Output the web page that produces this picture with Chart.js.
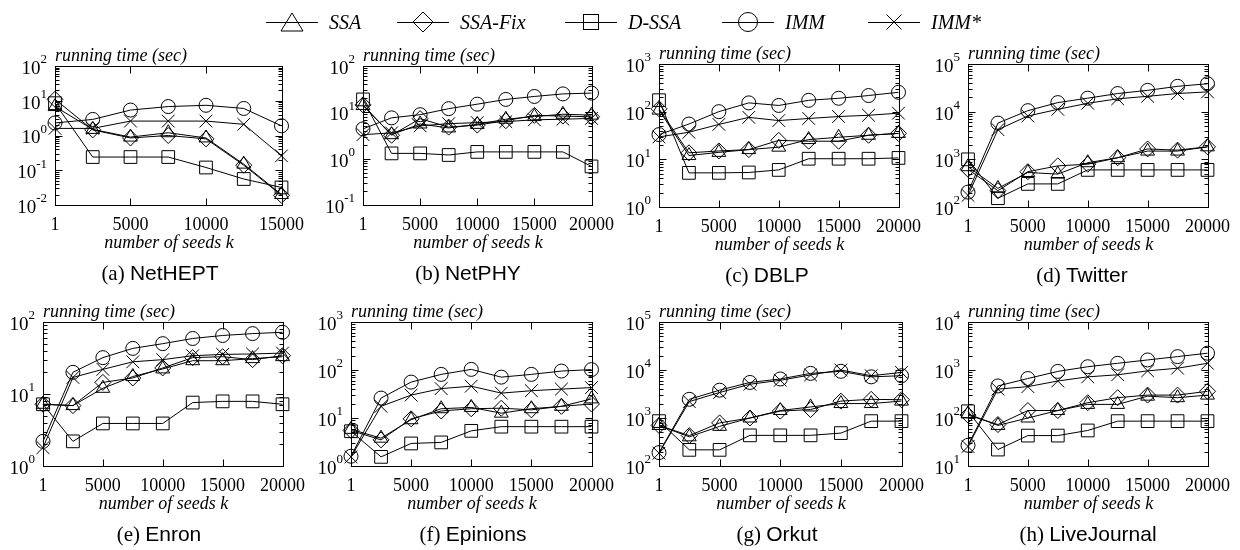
<!DOCTYPE html>
<html>
<head>
<meta charset="utf-8">
<script src="https://cdn.jsdelivr.net/npm/chart.js@4.4.0/dist/chart.umd.min.js"></script>
<style>
  body { margin: 0; background: #fff; }
  #fig { position: relative; width: 1240px; height: 550px; overflow: hidden; font-family: "Liberation Serif", serif; color: #000; }
  #fig canvas { position: absolute; }
  .lab { position: absolute; white-space: nowrap; line-height: 20px; }
  .it { font-style: italic; font-size: 18px; }
  .mid { transform: translateX(-50%); }
  .cap { font-size: 21px; }
  .cap span { font-family: "Liberation Sans", sans-serif; }
  .leg { position: absolute; top: 11px; height: 22px; display: flex; align-items: center; font-style: italic; font-size: 20px; white-space: nowrap; }
  .leg svg { margin-right: 11px; }
</style>
</head>
<body>
<div id="fig"></div>
<script>
// x values (number of seeds k)
const seedsHEPT = [1, 2500, 5000, 7500, 10000, 12500, 15000];
const seeds = [1, 2500, 5000, 7500, 10000, 12500, 15000, 17500, 20000];
const xTicksHEPT = [1, 5000, 10000, 15000];
const xTicks = [1, 5000, 10000, 15000, 20000];

const seriesNames = ['SSA', 'SSA-Fix', 'D-SSA', 'IMM', 'IMM*'];

// y tick exponents (10^e)
const yExpNetHEPT = [-2, -1, 0, 1, 2];
const yExpNetPHY = [-1, 0, 1, 2];
const yExpDBLP = [0, 1, 2, 3];
const yExpTwitter = [2, 3, 4, 5];
const yExpEnron = [0, 1, 2];
const yExpEpinions = [0, 1, 2, 3];
const yExpOrkut = [2, 3, 4, 5];
const yExpLiveJournal = [1, 2, 3, 4];

// running time (sec)
const netheptSSA = [6.8, 1.5, 0.9, 1.2, 0.85, 0.15, 0.02];
const netheptSSAFix = [11, 1.45, 0.85, 1.0, 0.8, 0.14, 0.019];
const netheptDSSA = [8.5, 0.24, 0.24, 0.24, 0.12, 0.056, 0.032];
const netheptIMM = [2.3, 2.9, 5.4, 6.8, 7.4, 6.0, 1.9];
const netheptIMMstar = [1.6, 1.6, 2.6, 2.6, 2.6, 2.1, 0.26];

const netphySSA = [14, 3.3, 5.6, 4.6, 5.5, 7.1, 8.1, 9.1, 8.7];
const netphySSAFix = [14.5, 3.2, 7.3, 4.8, 5.3, 6.6, 8.6, 8.3, 8.0];
const netphyDSSA = [19, 1.3, 1.3, 1.2, 1.4, 1.4, 1.4, 1.4, 0.68];
const netphyIMM = [4.4, 7.6, 8.9, 12, 15, 19, 22, 25, 26];
const netphyIMMstar = [3.3, 3.6, 5.1, 5.7, 6.0, 6.3, 6.9, 7.1, 7.4];

const dblpSSA = [108, 12, 14, 16, 18, 26, 29, 32, 35];
const dblpSSAFix = [115, 13.7, 15, 16, 25, 24, 24, 32, 35];
const dblpDSSA = [174, 5.2, 5.2, 5.3, 6.0, 10.3, 10.3, 10.3, 10.7];
const dblpIMM = [33, 55, 100, 153, 135, 173, 191, 218, 255];
const dblpIMMstar = [29.5, 37, 54, 76, 65, 72, 79, 84, 93];

const twitterSSA = [700, 246, 530, 490, 850, 1080, 1490, 1490, 1830];
const twitterSSAFix = [620, 220, 550, 730, 790, 1080, 1650, 1560, 1830];
const twitterDSSA = [1000, 153, 305, 305, 600, 600, 600, 600, 600];
const twitterIMM = [205, 5750, 10500, 15500, 19200, 24000, 28000, 34000, 38500];
const twitterIMMstar = [175, 4200, 8100, 11200, 15000, 18600, 21000, 24000, 26000];

const enronSSA = [7.2, 6.9, 12, 17.5, 22.3, 29, 29, 31, 33];
const enronSSAFix = [7.2, 6.9, 14.5, 16.7, 23, 32, 33, 30, 34];
const enronDSSA = [7.2, 2.2, 3.9, 3.9, 3.9, 7.6, 7.9, 7.9, 7.2];
const enronIMM = [2.2, 20, 32, 43, 50, 59, 65, 69, 72];
const enronIMMstar = [1.8, 17, 22, 28, 30, 34, 35.5, 36, 37];

const epinionsSSA = [5.8, 3.8, 9.2, 15.6, 16.6, 12.6, 15.6, 17.5, 25];
const epinionsSSAFix = [5.5, 3.5, 9.6, 14, 15.6, 16, 14.8, 17.5, 19.6];
const epinionsDSSA = [5.3, 1.55, 2.95, 3.1, 5.4, 6.6, 6.6, 6.6, 6.6];
const epinionsIMM = [1.6, 26, 56, 81, 103, 71, 81, 95, 102];
const epinionsIMMstar = [1.55, 17.5, 30, 41, 46, 33, 37, 40, 43];

const orkutSSA = [700, 405, 670, 1000, 1430, 1700, 2000, 2000, 2250];
const orkutSSAFix = [700, 430, 790, 1000, 1390, 1500, 2250, 2450, 2400];
const orkutDSSA = [860, 217, 217, 435, 435, 435, 485, 860, 860];
const orkutIMM = [190, 2450, 3800, 5500, 6500, 8500, 9400, 7200, 7600];
const orkutIMMstar = [185, 2200, 3400, 5050, 6100, 7900, 10000, 7600, 8900];

const livejournalSSA = [122, 70, 100, 143, 192, 192, 285, 265, 300];
const livejournalSSAFix = [115, 73, 143, 143, 208, 265, 300, 300, 360];
const livejournalDSSA = [138, 22, 43, 43, 55, 86, 86, 86, 86];
const livejournalIMM = [27, 465, 665, 935, 1170, 1380, 1620, 1900, 2240];
const livejournalIMMstar = [25.5, 400, 450, 590, 720, 795, 960, 1090, 1380];

const panels = [
  { tag: '(a)', name: 'NetHEPT', xs: seedsHEPT, xt: xTicksHEPT, exps: yExpNetHEPT, series: [netheptSSA, netheptSSAFix, netheptDSSA, netheptIMM, netheptIMMstar] },
  { tag: '(b)', name: 'NetPHY', xs: seeds, xt: xTicks, exps: yExpNetPHY, series: [netphySSA, netphySSAFix, netphyDSSA, netphyIMM, netphyIMMstar] },
  { tag: '(c)', name: 'DBLP', xs: seeds, xt: xTicks, exps: yExpDBLP, series: [dblpSSA, dblpSSAFix, dblpDSSA, dblpIMM, dblpIMMstar] },
  { tag: '(d)', name: 'Twitter', xs: seeds, xt: xTicks, exps: yExpTwitter, series: [twitterSSA, twitterSSAFix, twitterDSSA, twitterIMM, twitterIMMstar] },
  { tag: '(e)', name: 'Enron', xs: seeds, xt: xTicks, exps: yExpEnron, series: [enronSSA, enronSSAFix, enronDSSA, enronIMM, enronIMMstar] },
  { tag: '(f)', name: 'Epinions', xs: seeds, xt: xTicks, exps: yExpEpinions, series: [epinionsSSA, epinionsSSAFix, epinionsDSSA, epinionsIMM, epinionsIMMstar] },
  { tag: '(g)', name: 'Orkut', xs: seeds, xt: xTicks, exps: yExpOrkut, series: [orkutSSA, orkutSSAFix, orkutDSSA, orkutIMM, orkutIMMstar] },
  { tag: '(h)', name: 'LiveJournal', xs: seeds, xt: xTicks, exps: yExpLiveJournal, series: [livejournalSSA, livejournalSSAFix, livejournalDSSA, livejournalIMM, livejournalIMMstar] }
];

// plot boxes on the page: left, right, top, bottom; caption centre
const boxes = [
  [55, 283, 66, 205, 160], [363, 593, 66, 205, 468], [659, 900, 64, 207, 767], [968, 1209, 64, 207, 1082],
  [43, 284, 322, 466, 159], [351, 593, 322, 466, 473], [659, 903, 322, 466, 777], [968, 1209, 322, 466, 1088]
];

const marks = [
  { style: 'triangle', r: 8 },
  { style: 'rectRot', r: 8 },
  { style: 'rect', r: 9 },
  { style: 'circle', r: 7 },
  { style: 'crossRot', r: 9 }
];

const SERIF = '"Liberation Serif", serif';

// gnuplot-like frame: box, inward ticks, 10^n labels
const framePlugin = {
  id: 'frame',
  afterDraw(chart, args, opts) {
    const { ctx, chartArea: a, scales: { x, y } } = chart;
    const L = Math.round(a.left) + 0.5, R = Math.round(a.right) + 0.5;
    const T = Math.round(a.top) + 0.5, B = Math.round(a.bottom) + 0.5;
    ctx.save();
    ctx.strokeStyle = '#000';
    ctx.lineWidth = 1;
    ctx.beginPath();
    opts.xt.forEach(v => {
      const px = Math.round(x.getPixelForValue(v)) + 0.5;
      ctx.moveTo(px, B); ctx.lineTo(px, B - 7);
      ctx.moveTo(px, T); ctx.lineTo(px, T + 7);
    });
    const e0 = opts.exps[0], e1 = opts.exps[opts.exps.length - 1];
    for (let e = e0; e <= e1; e++) {
      for (let m = 1; m <= 9; m++) {
        if (e === e1 && m > 1) break;
        const py = Math.round(y.getPixelForValue(m * Math.pow(10, e))) + 0.5;
        const len = m === 1 ? 7 : 4;
        ctx.moveTo(L, py); ctx.lineTo(L + len, py);
        ctx.moveTo(R, py); ctx.lineTo(R - len, py);
      }
    }
    ctx.stroke();
    ctx.strokeRect(L, T, R - L, B - T);

    ctx.fillStyle = '#000';
    ctx.textBaseline = 'middle';
    ctx.textAlign = 'left';
    opts.exps.forEach(e => {
      const py = y.getPixelForValue(Math.pow(10, e));
      const sup = String(e);
      ctx.font = '13px ' + SERIF;
      const ws = ctx.measureText(sup).width;
      ctx.font = '19px ' + SERIF;
      const wb = ctx.measureText('10').width;
      const xr = a.left - 8;
      ctx.fillText('10', xr - ws - wb, py + 3);
      ctx.font = '13px ' + SERIF;
      ctx.fillText(sup, xr - ws, py - 6);
    });
    ctx.restore();
  }
};

const fig = document.getElementById('fig');

function addLabel(html, cls, left, top) {
  const d = document.createElement('div');
  d.className = 'lab ' + cls;
  d.innerHTML = html;
  d.style.left = left + 'px';
  d.style.top = top + 'px';
  fig.appendChild(d);
}

panels.forEach((p, i) => {
  const [L, R, T, B, cx] = boxes[i];
  const padL = 60, padR = 30, padT = 16, padB = 30;
  const cv = document.createElement('canvas');
  cv.width = (R - L) + padL + padR;
  cv.height = (B - T) + padT + padB;
  cv.style.left = (L - padL) + 'px';
  cv.style.top = (T - padT) + 'px';
  fig.appendChild(cv);

  new Chart(cv.getContext('2d'), {
    type: 'line',
    data: {
      datasets: p.series.map((vals, k) => ({
        label: seriesNames[k],
        data: p.xs.map((x, j) => ({ x: x, y: vals[j] })),
        borderColor: '#000',
        borderWidth: 1,
        pointStyle: marks[k].style,
        pointRadius: marks[k].r,
        pointBorderColor: '#000',
        pointBackgroundColor: 'rgba(0,0,0,0)',
        pointBorderWidth: 1,
        tension: 0,
        fill: false,
        clip: false
      }))
    },
    options: {
      responsive: false,
      animation: false,
      events: [],
      layout: { padding: { left: 0, right: padR, top: padT, bottom: 0 } },
      plugins: {
        legend: { display: false },
        tooltip: { enabled: false },
        frame: { xt: p.xt, exps: p.exps }
      },
      scales: {
        x: {
          type: 'linear',
          min: 1,
          max: p.xt[p.xt.length - 1],
          afterBuildTicks: s => { s.ticks = p.xt.map(v => ({ value: v })); },
          afterFit: s => { s.height = padB; },
          grid: { display: false, drawTicks: false },
          border: { display: false },
          ticks: {
            color: '#000',
            font: { family: 'Liberation Serif', size: 18 },
            padding: 9,
            maxRotation: 0,
            autoSkip: false,
            callback: v => String(v)
          }
        },
        y: {
          type: 'logarithmic',
          min: Math.pow(10, p.exps[0]),
          max: Math.pow(10, p.exps[p.exps.length - 1]),
          afterFit: s => { s.width = padL; },
          grid: { display: false, drawTicks: false },
          border: { display: false },
          ticks: { display: false }
        }
      }
    },
    plugins: [framePlugin]
  });

  addLabel('running time (sec)', 'it', L, T - 21);
  addLabel('number of seeds k', 'it mid', (L + R) / 2, B + 27);
  addLabel(p.tag + ' <span>' + p.name + '</span>', 'cap mid', cx, B + 58);
});

// legend
const legendPos = [266, 397, 565, 722, 868];
const legendSvg = [
  '<polygon points="26,2 37,20 15,20" fill="none" stroke="#000"/>',
  '<polygon points="26,1 36,11 26,21 16,11" fill="none" stroke="#000"/>',
  '<rect x="18.5" y="3.5" width="15" height="15" fill="none" stroke="#000"/>',
  '<circle cx="26" cy="11" r="9.5" fill="none" stroke="#000"/>',
  '<path d="M18.5 3.5 L33.5 18.5 M33.5 3.5 L18.5 18.5" stroke="#000"/>'
];
seriesNames.forEach((n, k) => {
  const d = document.createElement('div');
  d.className = 'leg';
  d.style.left = legendPos[k] + 'px';
  d.innerHTML = '<svg width="52" height="22"><line x1="0" y1="11.5" x2="52" y2="11.5" stroke="#000"/>' +
    legendSvg[k] + '</svg>' + n;
  fig.appendChild(d);
});
</script>
</body>
</html>
